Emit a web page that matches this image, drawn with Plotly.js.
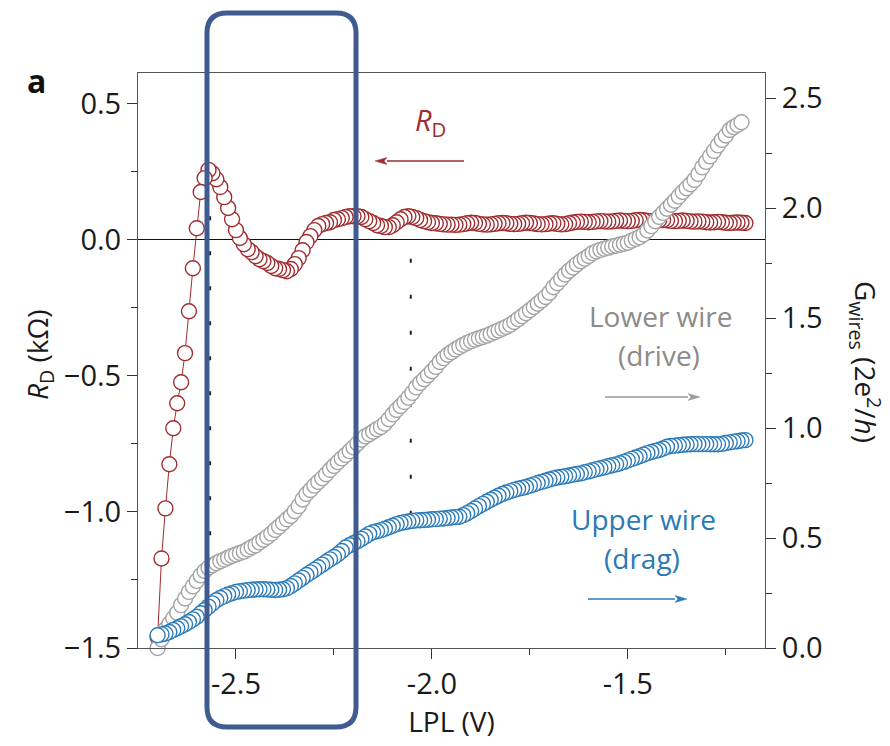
<!DOCTYPE html>
<html><head><meta charset="utf-8">
<script src="https://cdn.plot.ly/plotly-3.0.1.min.js"></script>
<style>html,body{margin:0;padding:0;background:#fff}#chart{width:890px;height:746px}</style>
</head><body><div id="chart"></div>
<script>
// LPL gate voltage (V)
const LPL = [
-2.70,-2.69,-2.68,-2.67,-2.66,-2.65,-2.64,-2.63,-2.62,-2.61,
-2.60,-2.59,-2.58,-2.57,-2.56,-2.55,-2.54,-2.53,-2.52,-2.51,
-2.50,-2.49,-2.48,-2.47,-2.46,-2.45,-2.44,-2.43,-2.42,-2.41,
-2.40,-2.39,-2.38,-2.37,-2.36,-2.35,-2.34,-2.33,-2.32,-2.31,
-2.30,-2.29,-2.28,-2.27,-2.26,-2.25,-2.24,-2.23,-2.22,-2.21,
-2.20,-2.19,-2.18,-2.17,-2.16,-2.15,-2.14,-2.13,-2.12,-2.11,
-2.10,-2.09,-2.08,-2.07,-2.06,-2.05,-2.04,-2.03,-2.02,-2.01,
-2.00,-1.99,-1.98,-1.97,-1.96,-1.95,-1.94,-1.93,-1.92,-1.91,
-1.90,-1.89,-1.88,-1.87,-1.86,-1.85,-1.84,-1.83,-1.82,-1.81,
-1.80,-1.79,-1.78,-1.77,-1.76,-1.75,-1.74,-1.73,-1.72,-1.71,
-1.70,-1.69,-1.68,-1.67,-1.66,-1.65,-1.64,-1.63,-1.62,-1.61,
-1.60,-1.59,-1.58,-1.57,-1.56,-1.55,-1.54,-1.53,-1.52,-1.51,
-1.50,-1.49,-1.48,-1.47,-1.46,-1.45,-1.44,-1.43,-1.42,-1.41,
-1.40,-1.39,-1.38,-1.37,-1.36,-1.35,-1.34,-1.33,-1.32,-1.31,
-1.30,-1.29,-1.28,-1.27,-1.26,-1.25,-1.24,-1.23,-1.22,-1.21,
-1.20];

// Drag resistance R_D (kOhm), left axis
const R_D = [
-1.46,-1.171,-0.987,-0.825,-0.693,-0.601,-0.524,-0.417,-0.263,-0.105,
0.042,0.175,0.226,0.256,0.244,0.222,0.193,0.156,0.116,0.075,
0.035,0.006,-0.017,-0.035,-0.046,-0.061,-0.072,-0.079,-0.086,-0.097,
-0.105,-0.108,-0.112,-0.116,-0.108,-0.090,-0.068,-0.039,-0.009,0.013,
0.035,0.050,0.057,0.061,0.064,0.072,0.075,0.079,0.083,0.086,
0.086,0.086,0.083,0.075,0.068,0.061,0.053,0.050,0.046,0.046,
0.053,0.064,0.075,0.083,0.086,0.083,0.079,0.072,0.068,0.064,
0.061,0.060,0.058,0.056,0.055,0.055,0.054,0.055,0.057,0.060,
0.062,0.061,0.058,0.056,0.055,0.056,0.058,0.060,0.061,0.060,
0.058,0.057,0.058,0.060,0.062,0.061,0.059,0.057,0.056,0.057,
0.059,0.060,0.058,0.056,0.057,0.060,0.063,0.065,0.066,0.065,
0.064,0.065,0.067,0.068,0.067,0.066,0.067,0.069,0.070,0.069,
0.068,0.069,0.071,0.072,0.071,0.069,0.068,0.069,0.071,0.072,
0.071,0.069,0.068,0.069,0.070,0.069,0.067,0.066,0.067,0.066,
0.064,0.063,0.064,0.065,0.064,0.062,0.061,0.062,0.063,0.062,
0.061];

// Lower wire (drive) conductance, right axis (2e^2/h)
const G_lower = [
0.0,0.04,0.085,0.11,0.135,0.16,0.195,0.225,0.255,0.28,
0.305,0.33,0.35,0.365,0.376,0.385,0.395,0.402,0.41,0.418,
0.425,0.432,0.438,0.448,0.458,0.466,0.48,0.492,0.505,0.52,
0.537,0.552,0.568,0.585,0.6,0.622,0.645,0.675,0.7,0.718,
0.738,0.755,0.772,0.79,0.81,0.828,0.845,0.862,0.878,0.895,
0.912,0.93,0.947,0.962,0.972,0.983,0.995,1.005,1.02,1.04,
1.062,1.082,1.1,1.118,1.138,1.16,1.185,1.205,1.222,1.24,
1.258,1.278,1.3,1.318,1.333,1.345,1.357,1.368,1.378,1.387,
1.395,1.402,1.408,1.414,1.42,1.428,1.436,1.444,1.452,1.46,
1.47,1.482,1.495,1.508,1.522,1.536,1.55,1.565,1.58,1.596,
1.615,1.64,1.658,1.678,1.698,1.715,1.73,1.745,1.758,1.77,
1.782,1.795,1.803,1.81,1.815,1.82,1.825,1.829,1.833,1.838,
1.843,1.852,1.86,1.868,1.88,1.898,1.918,1.94,1.96,1.978,
1.997,2.015,2.033,2.053,2.073,2.09,2.108,2.128,2.155,2.185,
2.21,2.235,2.26,2.285,2.31,2.33,2.355,2.368,2.378,2.39];

// Upper wire (drag) conductance, right axis (2e^2/h)
const G_upper = [
0.058,0.062,0.066,0.073,0.082,0.09,0.099,0.108,0.118,0.13,
0.142,0.158,0.173,0.188,0.203,0.217,0.227,0.236,0.243,0.249,
0.255,0.258,0.261,0.263,0.265,0.266,0.267,0.267,0.266,0.265,
0.264,0.265,0.267,0.272,0.282,0.294,0.307,0.319,0.332,0.344,
0.355,0.367,0.379,0.391,0.403,0.414,0.426,0.441,0.457,0.467,
0.476,0.485,0.496,0.507,0.519,0.526,0.531,0.536,0.542,0.549,
0.556,0.563,0.568,0.572,0.575,0.578,0.58,0.581,0.582,0.583,
0.585,0.586,0.588,0.589,0.591,0.593,0.595,0.597,0.604,0.613,
0.623,0.634,0.645,0.655,0.665,0.674,0.683,0.692,0.7,0.707,
0.713,0.719,0.724,0.728,0.732,0.738,0.744,0.75,0.755,0.76,
0.766,0.771,0.775,0.778,0.781,0.784,0.788,0.791,0.794,0.799,
0.803,0.808,0.813,0.817,0.821,0.826,0.831,0.835,0.84,0.846,
0.853,0.86,0.866,0.872,0.879,0.886,0.891,0.896,0.9,0.907,
0.915,0.918,0.92,0.922,0.924,0.925,0.926,0.927,0.927,0.927,
0.927,0.926,0.926,0.926,0.928,0.932,0.935,0.938,0.94,0.943,
0.945];

// Tick labels
const xTickVals = [-2.5, -2.0, -1.5];
const xTickText = ['-2.5', '-2.0', '-1.5'];
const xMinorVals = [-2.25, -1.75, -1.25];
const yTickVals = [-1.5, -1.0, -0.5, 0.0, 0.5];
const yTickText = ['\u22121.5', '\u22121.0', '\u22120.5', '0.0', '0.5'];
const yMinorVals = [-1.25, -0.75, -0.25, 0.25];
const y2TickVals = [0, 0.5, 1.0, 1.5, 2.0, 2.5];
const y2TickText = ['0.0', '0.5', '1.0', '1.5', '2.0', '2.5'];
const y2MinorVals = [0.25, 0.75, 1.25, 1.75, 2.25];

const RED = '#a12c2f', GRAY = '#a3a3a3', BLUE = '#2b7bb9', BOX = '#3f5b8f';
const GRAYTXT = '#8d8a88', BLUETXT = '#2a7ab6', ARROWGRAY = '#9a9a9a';
const FONT = 'Open Sans, Noto Sans, sans-serif';

const W = 890, H = 746, M = {l: 138, r: 125, t: 73, b: 98};
const pw = W - M.l - M.r, ph = H - M.t - M.b;
const px = v => (v - M.l) / pw;
const py = v => (H - M.b - v) / ph;

const rev = a => a.slice().reverse();
const MS = 15, MW = 1.4;

const traces = [
  {x: rev(LPL), y: rev(R_D), yaxis: 'y', type: 'scatter', mode: 'lines+markers',
   line: {color: RED, width: 1}, cliponaxis: false,
   marker: {symbol: 'circle', size: MS, color: '#ffffff', line: {color: RED, width: MW}}},
  {x: LPL.slice(0, G_lower.length), y: G_lower, yaxis: 'y2', type: 'scatter', mode: 'markers',
   cliponaxis: false,
   marker: {symbol: 'circle', size: MS, color: '#ffffff', line: {color: GRAY, width: MW}}},
  {x: rev(LPL), y: rev(G_upper), yaxis: 'y2', type: 'scatter', mode: 'markers',
   cliponaxis: false,
   marker: {symbol: 'circle', size: MS, color: '#ffffff', line: {color: BLUE, width: MW}}}
];

const axisCommon = {
  showgrid: false, showline: true, linecolor: '#555', linewidth: 1,
  ticks: 'outside', ticklen: 10, tickwidth: 1, tickcolor: '#333',
  tickfont: {family: FONT, size: 29, color: '#1a1a1a'}, tickmode: 'array'
};

// rounded box in paper coordinates
const bx0 = px(207), bx1 = px(356), byT = py(13), byB = py(727);
const rx = 20 / pw, ry = 20 / ph;
const boxPath = `M ${bx0+rx},${byT} L ${bx1-rx},${byT} Q ${bx1},${byT} ${bx1},${byT-ry} ` +
  `L ${bx1},${byB+ry} Q ${bx1},${byB} ${bx1-rx},${byB} L ${bx0+rx},${byB} ` +
  `Q ${bx0},${byB} ${bx0},${byB+ry} L ${bx0},${byT-ry} Q ${bx0},${byT} ${bx0+rx},${byT} Z`;

// horizontal arrows as shapes (line + narrow triangular head), in paper coordinates
function arrowShapes(xHead, yRow, xTail, color) {
  const dir = xHead > xTail ? 1 : -1, hl = 12, hw = 3.5;
  const xb = xHead - dir * hl;
  return [
    {type: 'line', xref: 'paper', yref: 'paper', x0: px(xTail), x1: px(xb), y0: py(yRow), y1: py(yRow),
     line: {color: color, width: 1.3}},
    {type: 'path', xref: 'paper', yref: 'paper',
     path: `M ${px(xHead)},${py(yRow)} L ${px(xb)},${py(yRow - hw)} L ${px(xb + dir*3)},${py(yRow)} L ${px(xb)},${py(yRow + hw)} Z`,
     fillcolor: color, line: {color: color, width: 0.5}}
  ];
}

const ann = (x, y, text, size, color, extra) => Object.assign({
  xref: 'paper', yref: 'paper', x: px(x), y: py(y), text: text, showarrow: false,
  xanchor: 'center', yanchor: 'middle', font: {family: FONT, size: size, color: color}
}, extra || {});

const layout = {
  width: W, height: H, margin: M, showlegend: false,
  paper_bgcolor: '#ffffff', plot_bgcolor: '#ffffff',
  font: {family: FONT, color: '#1a1a1a'},
  xaxis: Object.assign({}, axisCommon, {
    range: [-2.75, -1.15], tickvals: xTickVals, ticktext: xTickText, mirror: true, zeroline: false,
    minor: {tickmode: 'array', tickvals: xMinorVals, ticks: 'outside', ticklen: 6, tickcolor: '#333', showgrid: false},
    title: {text: 'LPL (V)', font: {family: FONT, size: 28, color: '#1a1a1a'}, standoff: 6}
  }),
  yaxis: Object.assign({}, axisCommon, {
    range: [-1.5, 0.612], tickvals: yTickVals, ticktext: yTickText,
    zeroline: true, zerolinecolor: '#111', zerolinewidth: 1,
    minor: {tickmode: 'array', tickvals: yMinorVals, ticks: 'outside', ticklen: 6, tickcolor: '#333', showgrid: false}
  }),
  yaxis2: Object.assign({}, axisCommon, {
    overlaying: 'y', side: 'right', range: [0, 2.614], tickvals: y2TickVals, ticktext: y2TickText,
    zeroline: false,
    minor: {tickmode: 'array', tickvals: y2MinorVals, ticks: 'outside', ticklen: 6, tickcolor: '#333', showgrid: false}
  }),
  shapes: [
    {type: 'line', xref: 'x', yref: 'y', x0: -2.566, x1: -2.566, y0: 0.086, y1: -1.12, layer: 'below',
     line: {color: '#222', width: 2, dash: '4px,31px'}},
    {type: 'line', xref: 'x', yref: 'y', x0: -2.054, x1: -2.054, y0: -0.070, y1: -1.009, layer: 'below',
     line: {color: '#222', width: 2, dash: '4px,32px'}},
    ...arrowShapes(375, 161, 464, RED),
    ...arrowShapes(700, 397, 605, ARROWGRAY),
    ...arrowShapes(687, 599, 588, BLUE),
    {type: 'path', xref: 'paper', yref: 'paper', path: boxPath, layer: 'above',
     line: {color: BOX, width: 5}, fillcolor: 'rgba(0,0,0,0)'}
  ],
  annotations: [
    ann(36, 80, '<b>a</b>', 32, '#111'),
    ann(39, 355, '<i>R</i><sub>D</sub> (kΩ)', 28, '#1a1a1a', {textangle: -90}),
    ann(866, 362, 'G<sub>wires</sub> (2e<sup>2</sup>/<i>h</i>)', 28, '#1a1a1a', {textangle: 90}),
    ann(430, 122, '<i>R</i><sub>D</sub>', 29, RED),
    ann(661, 316, 'Lower wire', 28, GRAYTXT),
    ann(659, 355, '(drive)', 28, GRAYTXT),
    ann(643, 519, 'Upper wire', 28, BLUETXT),
    ann(642, 558, '(drag)', 28, BLUETXT)
  ]
};

Plotly.newPlot('chart', traces, layout, {displayModeBar: false, staticPlot: true});
</script>
</body></html>
